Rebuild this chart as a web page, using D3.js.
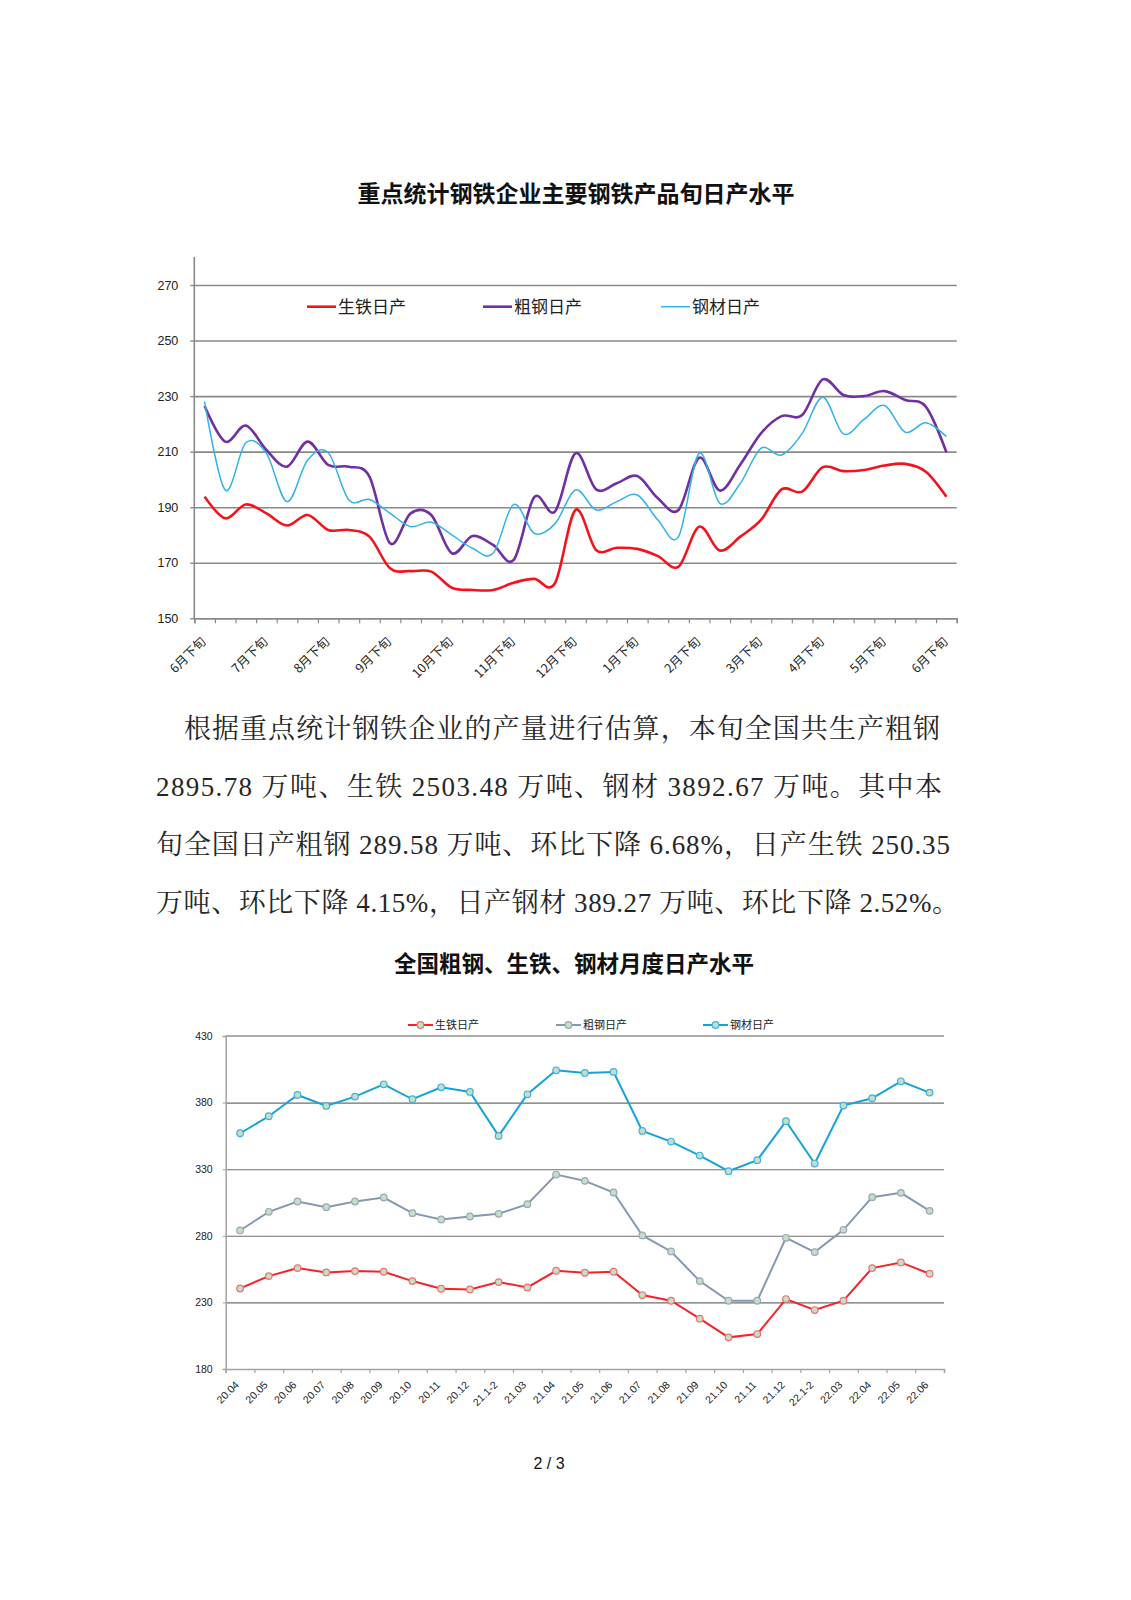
<!DOCTYPE html>
<html>
<head>
<meta charset="utf-8">
<script src="https://cdn.jsdelivr.net/npm/d3@7"></script>
<style>
  body { margin: 0; background: #fff; }
  svg { display: block; }
</style>
</head>
<body>
<div id="wrapper"></div>
<script>

// ---- data: dekad (旬) chart ----
const dekadCategories = [
  "6月下旬",
  "7月上旬", "7月中旬", "7月下旬",
  "8月上旬", "8月中旬", "8月下旬",
  "9月上旬", "9月中旬", "9月下旬",
  "10月上旬", "10月中旬", "10月下旬",
  "11月上旬", "11月中旬", "11月下旬",
  "12月上旬", "12月中旬", "12月下旬",
  "1月上旬", "1月中旬", "1月下旬",
  "2月上旬", "2月中旬", "2月下旬",
  "3月上旬", "3月中旬", "3月下旬",
  "4月上旬", "4月中旬", "4月下旬",
  "5月上旬", "5月中旬", "5月下旬",
  "6月上旬", "6月中旬", "6月下旬"
];
const pigIronDekad = [193.8, 186, 191, 187.8, 183.4, 187.2, 181.8, 181.8, 179.4, 168, 167, 166.8,
  161, 160.2, 160.2, 162.8, 164.2, 162.6, 189, 174.6, 175.4, 175, 172.4, 168.6, 183, 174.4,
  179.4, 185.4, 196.4, 195.6, 204.4, 203, 203.4, 205, 205.6, 202.8, 193.8];
const crudeSteelDekad = [226.4, 213.6, 219.4, 210.6, 204.6, 213.6, 205.2, 204.6, 201, 177, 187.8, 187.2,
  173.4, 179.6, 176.4, 171, 193.6, 188.4, 209.4, 196.4, 198.6, 201.2, 193.2, 189, 207.8, 196,
  205.4, 216.6, 222.8, 223.2, 236, 230.4, 230, 231.8, 228.6, 226.2, 209.8];
const steelProductsDekad = [228, 196.2, 213.2, 209.4, 192, 207, 209.6, 192.6, 192.8, 187.8, 183, 184.6,
  180, 175.2, 173.4, 191, 180.6, 184, 196.2, 189, 192, 194.4, 185.4, 179.4, 209.4, 191.4,
  198.6, 211.2, 208.8, 216.6, 229.6, 216.4, 221.6, 226.6, 217, 220.4, 215.4];
const dekadYTicks = [150, 170, 190, 210, 230, 250, 270];
const dekadSeriesNames = ["生铁日产", "粗钢日产", "钢材日产"];

// ---- data: monthly chart ----
const monthCategories = ["20.04", "20.05", "20.06", "20.07", "20.08", "20.09", "20.10", "20.11", "20.12",
  "21.1-2", "21.03", "21.04", "21.05", "21.06", "21.07", "21.08", "21.09", "21.10", "21.11", "21.12",
  "22.1-2", "22.03", "22.04", "22.05", "22.06"];
const pigIronMonthly = [240.5, 249.75, 255.75, 252.5, 253.5, 253, 246, 240.25, 239.75, 245.25, 241.25,
  253.75, 252.25, 253, 235.5, 231.25, 217.75, 203.75, 206.25, 232.5, 224.25, 231.25, 255.75, 260, 251.5];
const crudeSteelMonthly = [284, 298, 305.75, 301.5, 305.75, 308.75, 297, 292.25, 294.5, 296.5, 303.75,
  326, 321.25, 312.5, 280.25, 268.25, 246, 231.25, 231.25, 278.5, 267.75, 284.5, 309, 312.25, 298.75];
const steelProductsMonthly = [357, 369.75, 385.75, 377.5, 384.5, 393.75, 382.5, 391.5, 388, 355, 386.25,
  404.25, 402.25, 403, 358.75, 350.75, 340.25, 328.5, 336.75, 366, 334.25, 377.75, 383.25, 396, 387.5];
const monthYTicks = [180, 230, 280, 330, 380, 430];

// ---- text ----
const chartTitle1 = "重点统计钢铁企业主要钢铁产品旬日产水平";
const chartTitle2 = "全国粗钢、生铁、钢材月度日产水平";
const paragraphLines = [
  "根据重点统计钢铁企业的产量进行估算，本旬全国共生产粗钢",
  "2895.78 万吨、生铁 2503.48 万吨、钢材 3892.67 万吨。其中本",
  "旬全国日产粗钢 289.58 万吨、环比下降 6.68%，日产生铁 250.35",
  "万吨、环比下降 4.15%，日产钢材 389.27 万吨、环比下降 2.52%。"
];
const pageNumber = "2 / 3";

const cjkFont = "'Noto Sans CJK SC', 'Noto Sans', sans-serif";
const numFont = "'Liberation Sans', 'Noto Sans CJK SC', sans-serif";

const svg = d3.select("#wrapper")
  .append("svg")
    .attr("width", 1131)
    .attr("height", 1600)
    .style("background", "#fff");

// ===================== chart 1: dekad daily output =====================
function drawDekadChart() {
  let dimensions = {
    margin: { top: 285, left: 194.3 },
    boundedWidth: 762.4,
    boundedHeight: 333.3,
  };

  svg.append("text")
    .attr("x", 576)
    .attr("y", 202)
    .attr("text-anchor", "middle")
    .style("font-family", cjkFont)
    .style("font-weight", "bold")
    .style("font-size", "23px")
    .attr("fill", "#111")
    .text(chartTitle1);

  const bounds = svg.append("g")
    .attr("transform", `translate(${dimensions.margin.left},${dimensions.margin.top})`);

  const n = dekadCategories.length;
  const xBand = d3.scaleBand()
    .domain(d3.range(n))
    .range([0, dimensions.boundedWidth]);
  const xEdge = d3.scaleLinear()
    .domain([0, n])
    .range([0, dimensions.boundedWidth]);
  const yScale = d3.scaleLinear()
    .domain([150, 270])
    .range([dimensions.boundedHeight, 0]);

  // gridlines
  const grid = bounds.append("g")
    .call(d3.axisLeft(yScale).tickValues(dekadYTicks).tickSize(-dimensions.boundedWidth).tickFormat(""));
  grid.select(".domain").remove();
  grid.selectAll("line").attr("stroke", "#8a8a8a").attr("stroke-width", 1.6);

  // y axis
  const yAxis = bounds.append("g")
    .call(d3.axisLeft(yScale).tickValues(dekadYTicks).tickSize(4).tickPadding(12));
  yAxis.select(".domain").remove();
  yAxis.selectAll("line").attr("stroke", "#8a8a8a").attr("stroke-width", 1.4);
  yAxis.selectAll("text")
    .style("font-family", numFont)
    .style("font-size", "12.5px")
    .attr("fill", "#222");
  bounds.append("line")
    .attr("x1", 0).attr("x2", 0)
    .attr("y1", -28).attr("y2", dimensions.boundedHeight)
    .attr("stroke", "#8a8a8a").attr("stroke-width", 1.6);

  // x axis tick marks between categories
  const xTicks = bounds.append("g")
    .attr("transform", `translate(0,${dimensions.boundedHeight})`)
    .call(d3.axisBottom(xEdge).tickValues(d3.range(n + 1)).tickSize(5).tickFormat(""));
  xTicks.select(".domain").attr("stroke", "#8a8a8a").attr("stroke-width", 1.6);
  xTicks.selectAll("line").attr("stroke", "#8a8a8a").attr("stroke-width", 1.2);

  // x labels (下旬 only)
  const labelIdx = d3.range(n).filter(i => dekadCategories[i].endsWith("下旬"));
  const xLabels = bounds.append("g")
    .attr("transform", `translate(0,${dimensions.boundedHeight})`)
    .call(d3.axisBottom(xBand).tickValues(labelIdx).tickSize(0).tickFormat(i => dekadCategories[i]));
  xLabels.select(".domain").remove();
  xLabels.selectAll("text")
    .attr("x", 0).attr("y", 0).attr("dy", "0.35em")
    .attr("transform", "translate(-1,21) rotate(-45)")
    .attr("text-anchor", "end")
    .style("font-family", cjkFont)
    .style("font-size", "12.5px")
    .attr("fill", "#222");

  // lines
  const xCenter = i => xBand(i) + xBand.bandwidth() / 2;
  const lineGen = d3.line()
    .x((d, i) => xCenter(i))
    .y(d => yScale(d))
    .curve(d3.curveCardinal.tension(0));

  const series = [
    { values: pigIronDekad, color: "#f5121c", width: 2.6 },
    { values: crudeSteelDekad, color: "#7130a2", width: 2.6 },
    { values: steelProductsDekad, color: "#2fb3e8", width: 1.5 },
  ];
  bounds.selectAll(".series")
    .data(series)
    .join("path")
      .attr("class", "series")
      .attr("d", d => lineGen(d.values))
      .attr("fill", "none")
      .attr("stroke", d => d.color)
      .attr("stroke-width", d => d.width);

  // legend
  const legendX = [307, 483, 661];
  const legend = svg.append("g");
  series.forEach((s, i) => {
    legend.append("line")
      .attr("x1", legendX[i]).attr("x2", legendX[i] + 29)
      .attr("y1", 306.7).attr("y2", 306.7)
      .attr("stroke", s.color).attr("stroke-width", s.width);
    legend.append("text")
      .attr("x", legendX[i] + 31)
      .attr("y", 306.7)
      .attr("dy", "0.36em")
      .style("font-family", cjkFont)
      .style("font-size", "17px")
      .attr("fill", "#222")
      .text(dekadSeriesNames[i]);
  });
}

// ===================== paragraph =====================
function drawParagraph() {
  const lineLayout = [
    { x: 184, y: 738, len: 756 },
    { x: 156, y: 796, len: 786 },
    { x: 156, y: 854, len: 794 },
    { x: 156, y: 912, len: 803 },
  ];
  svg.append("g").selectAll("text")
    .data(paragraphLines)
    .join("text")
      .attr("x", (d, i) => lineLayout[i].x)
      .attr("y", (d, i) => lineLayout[i].y)
      .attr("textLength", (d, i) => lineLayout[i].len)
      .attr("lengthAdjust", "spacing")
      .style("font-family", "'Liberation Serif', 'Noto Serif CJK SC', 'Noto Sans CJK SC', serif")
      .style("font-size", "27px")
      .attr("fill", "#262626")
      .text(d => d);
}

// ===================== chart 2: monthly daily output =====================
function drawMonthlyChart() {
  let dimensions = {
    margin: { top: 1036, left: 225.7 },
    boundedWidth: 718.3,
    boundedHeight: 333,
  };

  svg.append("text")
    .attr("x", 574)
    .attr("y", 972)
    .attr("text-anchor", "middle")
    .style("font-family", cjkFont)
    .style("font-weight", "bold")
    .style("font-size", "22.5px")
    .attr("fill", "#111")
    .text(chartTitle2);

  const bounds = svg.append("g")
    .attr("transform", `translate(${dimensions.margin.left},${dimensions.margin.top})`);

  const n = monthCategories.length;
  const xBand = d3.scaleBand()
    .domain(d3.range(n))
    .range([0, dimensions.boundedWidth]);
  const xEdge = d3.scaleLinear()
    .domain([0, n])
    .range([0, dimensions.boundedWidth]);
  const yScale = d3.scaleLinear()
    .domain([180, 430])
    .range([dimensions.boundedHeight, 0]);

  const grid = bounds.append("g")
    .call(d3.axisLeft(yScale).tickValues(monthYTicks.slice(1, -1)).tickSize(-dimensions.boundedWidth).tickFormat(""));
  grid.select(".domain").remove();
  grid.selectAll("line").attr("stroke", "#6e6e6e").attr("stroke-width", 1.1);
  bounds.append("line")
    .attr("x1", 0).attr("x2", dimensions.boundedWidth)
    .attr("y1", yScale(430)).attr("y2", yScale(430))
    .attr("stroke", "#ababab").attr("stroke-width", 2);

  const yAxis = bounds.append("g")
    .call(d3.axisLeft(yScale).tickValues(monthYTicks).tickSize(3).tickPadding(10));
  yAxis.select(".domain").attr("stroke", "#a3a3a3").attr("stroke-width", 1.5);
  yAxis.selectAll("line").attr("stroke", "#a3a3a3");
  yAxis.selectAll("text")
    .style("font-family", numFont)
    .style("font-size", "10.5px")
    .attr("fill", "#222");

  const xTicks = bounds.append("g")
    .attr("transform", `translate(0,${dimensions.boundedHeight})`)
    .call(d3.axisBottom(xEdge).tickValues(d3.range(n + 1)).tickSize(4).tickFormat(""));
  xTicks.select(".domain").attr("stroke", "#a3a3a3").attr("stroke-width", 1.5);
  xTicks.selectAll("line").attr("stroke", "#a3a3a3").attr("stroke-width", 1.2);

  const xLabels = bounds.append("g")
    .attr("transform", `translate(0,${dimensions.boundedHeight})`)
    .call(d3.axisBottom(xBand).tickSize(0).tickFormat(i => monthCategories[i]));
  xLabels.select(".domain").remove();
  xLabels.selectAll("text")
    .attr("x", 0).attr("y", 0).attr("dy", "0.35em")
    .attr("transform", "translate(-3,14) rotate(-45)")
    .attr("text-anchor", "end")
    .style("font-family", numFont)
    .style("font-size", "10.5px")
    .attr("fill", "#222");

  const xCenter = i => xBand(i) + xBand.bandwidth() / 2;
  const lineGen = d3.line()
    .x((d, i) => xCenter(i))
    .y(d => yScale(d));

  const series = [
    { name: "生铁日产", values: pigIronMonthly, color: "#f5222a", marker: "#f07070" },
    { name: "粗钢日产", values: crudeSteelMonthly, color: "#8698ae", marker: "#97a8ba" },
    { name: "钢材日产", values: steelProductsMonthly, color: "#16a2d8", marker: "#3fb2e2" },
  ];

  const groups = bounds.selectAll(".mseries")
    .data(series)
    .join("g")
      .attr("class", "mseries");
  groups.append("path")
    .attr("d", d => lineGen(d.values))
    .attr("fill", "none")
    .attr("stroke", d => d.color)
    .attr("stroke-width", 2);
  groups.each(function(s) {
    d3.select(this).selectAll("circle")
      .data(s.values)
      .join("circle")
        .attr("cx", (d, i) => xCenter(i))
        .attr("cy", d => yScale(d))
        .attr("r", 3.3)
        .attr("fill", "#c5dfc6")
        .attr("stroke", s.marker)
        .attr("stroke-width", 1.2);
  });

  // legend
  const legendX = [408, 556, 703];
  const legend = svg.append("g");
  series.forEach((s, i) => {
    legend.append("line")
      .attr("x1", legendX[i]).attr("x2", legendX[i] + 25)
      .attr("y1", 1025).attr("y2", 1025)
      .attr("stroke", s.color).attr("stroke-width", 2);
    legend.append("circle")
      .attr("cx", legendX[i] + 12.5).attr("cy", 1025)
      .attr("r", 3.3)
      .attr("fill", "#c5dfc6")
      .attr("stroke", s.marker)
      .attr("stroke-width", 1.2);
    legend.append("text")
      .attr("x", legendX[i] + 27)
      .attr("y", 1025)
      .attr("dy", "0.36em")
      .style("font-family", cjkFont)
      .style("font-size", "11px")
      .attr("fill", "#222")
      .text(s.name);
  });
}

drawDekadChart();
drawParagraph();
drawMonthlyChart();

svg.append("text")
  .attr("x", 549)
  .attr("y", 1469)
  .attr("text-anchor", "middle")
  .style("font-family", numFont)
  .style("font-size", "16px")
  .attr("fill", "#111")
  .text(pageNumber);

</script>
</body>
</html>
